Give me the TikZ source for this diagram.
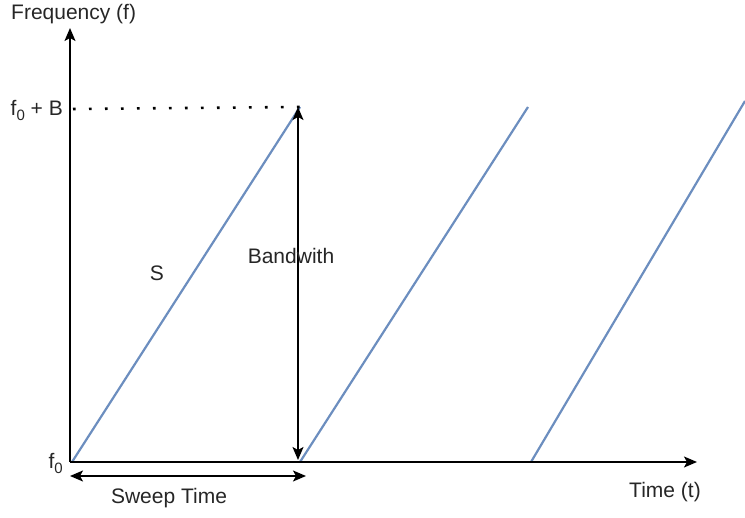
\documentclass[tikz,border=0pt]{standalone}
\usepackage{fontspec}
\setmainfont{Liberation Sans}
\usepackage{xcolor}
\usepackage{tikz}
\usetikzlibrary{arrows.meta, positioning, calc}

\definecolor{chirpblue}{HTML}{6C8EBF}
\newcommand{\lowsub}[1]{\raisebox{-0.45ex}{\fontsize{15}{18}\selectfont #1}}

\begin{document}
\begin{tikzpicture}[
  x=1pt, y=-1pt,
  lbl/.style={inner sep=0pt, font=\fontsize{21}{25}\selectfont, text=black!85},
  axis/.style={-{Stealth[length=13pt, width=11pt, inset=3pt]}, line width=1.6pt},
  dim/.style={{Stealth[length=13pt, width=11pt, inset=3pt]}-{Stealth[length=13pt, width=11pt, inset=3pt]}, line width=1.4pt},
  chirp/.style={chirpblue, line width=2.2pt},
  guide/.style={line width=2.6pt, dash pattern=on 2.6pt off 13.4pt}
]
\useasboundingbox (0,0) rectangle (745,518);
% axes and ramp corners
\coordinate (orig) at (70,462);
\coordinate (ytip) at (70,28);
\coordinate (xtip) at (697,462);
\coordinate (top1) at (300,107);
\coordinate (bot2) at (300,462);
\coordinate (top2) at (528,107);
\coordinate (bot3) at (531,462);
\coordinate (top3) at (745,101);

% sawtooth chirp
\draw[chirp] (72,462) -- (top1);
\draw[chirp] (bot2) -- (top2);
\draw[chirp] (bot3) -- (top3);

\draw[axis] (orig) -- (ytip);
\draw[axis] (orig) -- (xtip);
\draw[guide] (73,109) -- (top1);

\coordinate (bwtop) at (298,107);
\coordinate (bwbot) at (298,460);
\draw[dim] (bwtop) -- (bwbot);
\coordinate (swl) at (70,476);
\coordinate (swr) at (306,476);
\draw[dim] (swl) -- (swr);

\node[lbl, anchor=west] (flab) at (11,14) {Frequency (f)};
\node[lbl, anchor=east] (fb) at (63,110) {f\lowsub{0} + B};
\node[lbl, anchor=east] (f0) at (63,463) {f\lowsub{0}};
\node[lbl] (slope) at (157,273) {S};
\node[lbl] (bw) at (291,256) {Bandwith};
\node[lbl] (sweep) at (169,498) {Sweep Time};
\node[lbl] (tlab) at (665,492) {Time (t)};
\end{tikzpicture}
\end{document}
